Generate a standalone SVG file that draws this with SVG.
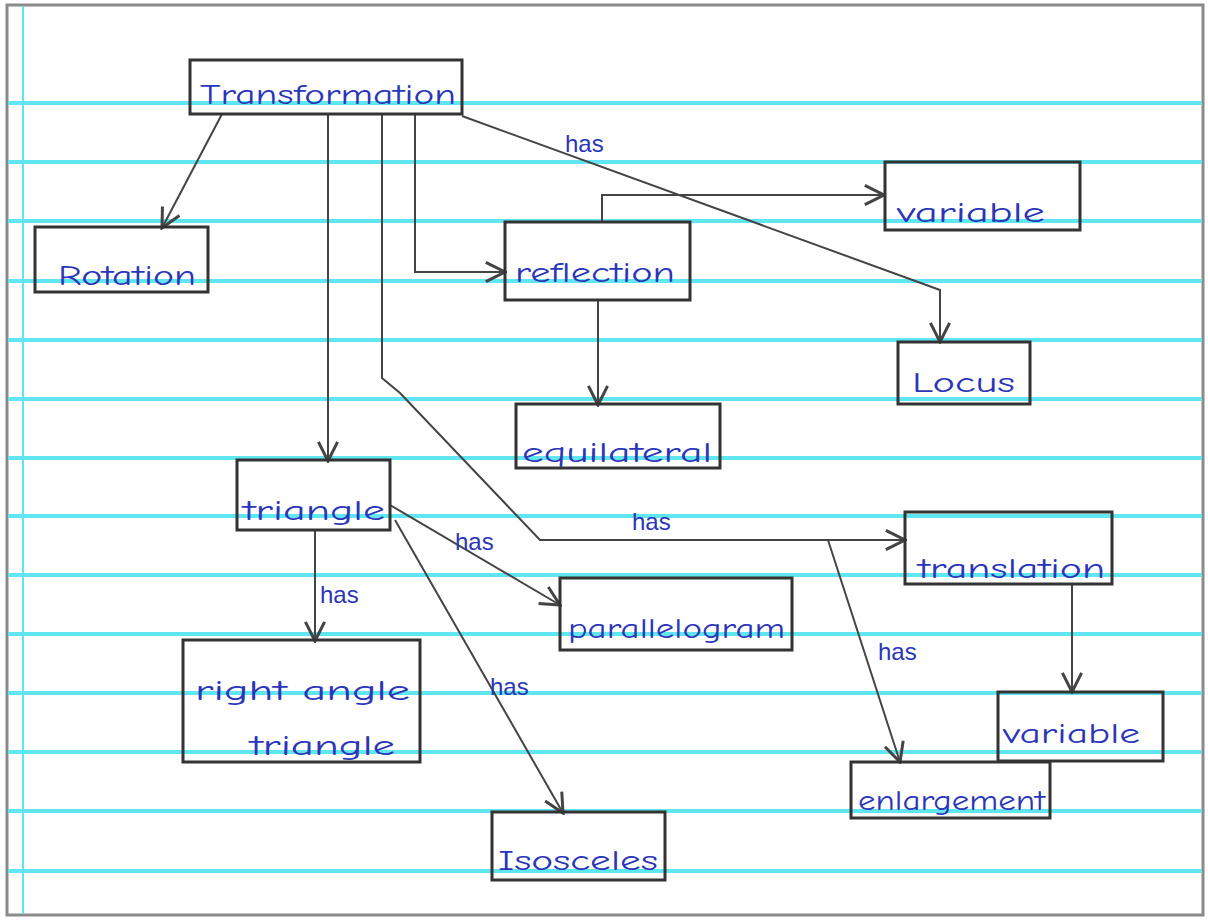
<svg xmlns="http://www.w3.org/2000/svg" width="1208" height="920" viewBox="0 0 1208 920">
<style>
.rule{stroke:#5fe6f0;stroke-width:4}
.box{fill:none;stroke:#333;stroke-width:3}
.lbl{font-family:"Comic Neue","Liberation Sans",sans-serif;font-size:28px;fill:#2b35b8}
.has{font-family:"Liberation Sans",sans-serif;font-size:24px;fill:#2b35b8}
.con{fill:none;stroke:#444;stroke-width:2}
</style>
<defs>
<marker id="arr" markerUnits="userSpaceOnUse" markerWidth="24" markerHeight="24" refX="18" refY="10" orient="auto" viewBox="0 0 20 20">
<path d="M2,2 L18,10 L2,18" fill="none" stroke="#444" stroke-width="2.5"/>
</marker>
</defs>
<rect x="0" y="0" width="1208" height="920" fill="#fff"/>
<g id="paper">
<rect x="7" y="5" width="1196" height="910" fill="#fff" stroke="#8a8a8a" stroke-width="3"/>
<line class="rule" x1="8" y1="103" x2="1202" y2="103"/>
<line class="rule" x1="8" y1="162" x2="1202" y2="162"/>
<line class="rule" x1="8" y1="221" x2="1202" y2="221"/>
<line class="rule" x1="8" y1="281" x2="1202" y2="281"/>
<line class="rule" x1="8" y1="340" x2="1202" y2="340"/>
<line class="rule" x1="8" y1="399" x2="1202" y2="399"/>
<line class="rule" x1="8" y1="458" x2="1202" y2="458"/>
<line class="rule" x1="8" y1="516" x2="1202" y2="516"/>
<line class="rule" x1="8" y1="575" x2="1202" y2="575"/>
<line class="rule" x1="8" y1="634" x2="1202" y2="634"/>
<line class="rule" x1="8" y1="693" x2="1202" y2="693"/>
<line class="rule" x1="8" y1="752" x2="1202" y2="752"/>
<line class="rule" x1="8" y1="811" x2="1202" y2="811"/>
<line class="rule" x1="8" y1="871" x2="1202" y2="871"/>
<line x1="23" y1="6" x2="23" y2="914" stroke="#5fe6f0" stroke-width="2"/>
</g>
<g id="connectors">
<line class="con" x1="222" y1="114" x2="162" y2="228" marker-end="url(#arr)"/>
<line class="con" x1="328" y1="114" x2="328" y2="461" marker-end="url(#arr)"/>
<polyline class="con" points="415,114 415,272 505,272" marker-end="url(#arr)"/>
<polyline class="con" points="602,222 602,195 884,195" marker-end="url(#arr)"/>
<polyline class="con" points="462,116 940,290 940,342" marker-end="url(#arr)"/>
<line class="con" x1="598" y1="300" x2="598" y2="405" marker-end="url(#arr)"/>
<polyline class="con" points="382,114 382,378 400,393 540,540 905,540" marker-end="url(#arr)"/>
<line class="con" x1="828" y1="540" x2="900" y2="762" marker-end="url(#arr)"/>
<line class="con" x1="1072" y1="584" x2="1072" y2="692" marker-end="url(#arr)"/>
<line class="con" x1="390" y1="505" x2="560" y2="605" marker-end="url(#arr)"/>
<line class="con" x1="315" y1="530" x2="315" y2="641" marker-end="url(#arr)"/>
<line class="con" x1="395" y1="520" x2="563" y2="813" marker-end="url(#arr)"/>
<text class="has" x="565" y="152">has</text>
<text class="has" x="632" y="530">has</text>
<text class="has" x="878" y="660">has</text>
<text class="has" x="455" y="550">has</text>
<text class="has" x="320" y="603">has</text>
<text class="has" x="490" y="695">has</text>
</g>
<g id="transformation">
<rect class="box" x="190" y="60" width="272" height="54"/>
<text class="lbl" x="200" y="104" textLength="256" lengthAdjust="spacingAndGlyphs">Transformation</text>
</g>
<g id="rotation">
<rect class="box" x="35" y="227" width="173" height="65"/>
<text class="lbl" x="58" y="285" textLength="138" lengthAdjust="spacingAndGlyphs">Rotation</text>
</g>
<g id="reflection">
<rect class="box" x="505" y="222" width="185" height="78"/>
<text class="lbl" x="515" y="282" textLength="160" lengthAdjust="spacingAndGlyphs">reflection</text>
</g>
<g id="variable-top">
<rect class="box" x="885" y="162" width="195" height="68"/>
<text class="lbl" x="897" y="222" textLength="148" lengthAdjust="spacingAndGlyphs">variable</text>
</g>
<g id="locus">
<rect class="box" x="898" y="342" width="132" height="62"/>
<text class="lbl" x="912" y="392" textLength="103" lengthAdjust="spacingAndGlyphs">Locus</text>
</g>
<g id="equilateral">
<rect class="box" x="516" y="404" width="204" height="64"/>
<text class="lbl" x="522" y="462" textLength="190" lengthAdjust="spacingAndGlyphs">equilateral</text>
</g>
<g id="triangle">
<rect class="box" x="237" y="460" width="153" height="70"/>
<text class="lbl" x="243" y="520" textLength="142" lengthAdjust="spacingAndGlyphs">triangle</text>
</g>
<g id="parallelogram">
<rect class="box" x="560" y="578" width="232" height="72"/>
<text class="lbl" x="568" y="638" textLength="217" lengthAdjust="spacingAndGlyphs">parallelogram</text>
</g>
<g id="translation">
<rect class="box" x="905" y="512" width="207" height="72"/>
<text class="lbl" x="918" y="578" textLength="187" lengthAdjust="spacingAndGlyphs">translation</text>
</g>
<g id="right-angle-triangle">
<rect class="box" x="183" y="640" width="237" height="122"/>
<text class="lbl" x="195" y="700" textLength="215" lengthAdjust="spacingAndGlyphs">right angle</text>
<text class="lbl" x="250" y="755" textLength="145" lengthAdjust="spacingAndGlyphs">triangle</text>
</g>
<g id="isosceles">
<rect class="box" x="492" y="812" width="173" height="68"/>
<text class="lbl" x="498" y="870" textLength="160" lengthAdjust="spacingAndGlyphs">Isosceles</text>
</g>
<g id="variable-bottom">
<rect class="box" x="998" y="692" width="165" height="69"/>
<text class="lbl" x="1003" y="743" textLength="137" lengthAdjust="spacingAndGlyphs">variable</text>
</g>
<g id="enlargement">
<rect class="box" x="851" y="762" width="199" height="56"/>
<text class="lbl" x="858" y="810" textLength="187" lengthAdjust="spacingAndGlyphs">enlargement</text>
</g>
</svg>
